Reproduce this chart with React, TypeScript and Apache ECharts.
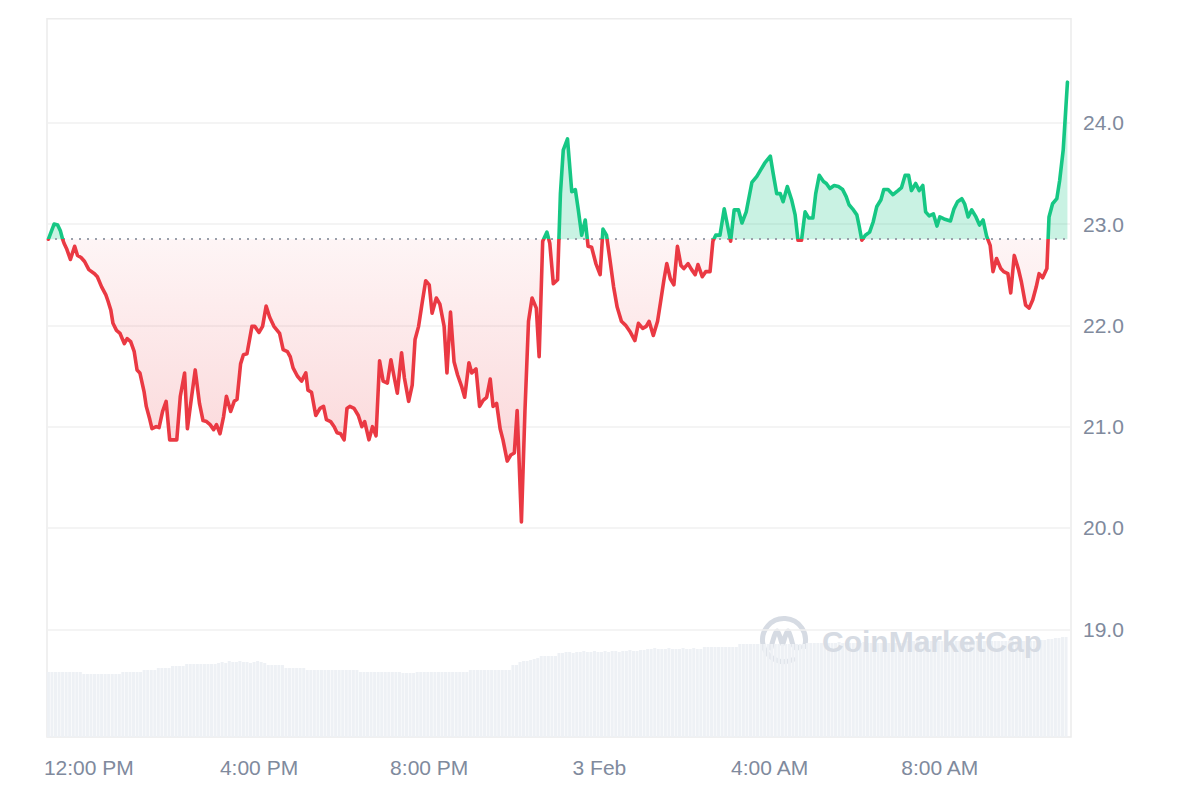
import { useEffect, useRef } from "react";
import * as echarts from "echarts";

// ---------- data ----------
// x positions are minutes after 2 Feb 00:00
const AXIS_START_MIN = 661; // 2 Feb, 11:01
const AXIS_END_MIN = 2105; // 3 Feb, 11:05
const OPEN_PRICE = 22.85; // dotted reference line

// price samples: minutes after axis start, and price
const priceMinutes = [
  2, 10, 15, 19, 22, 24, 28, 33, 39, 43,
  48, 53, 59, 67, 71, 77, 83, 86, 90, 93,
  98, 103, 109, 113, 118, 123, 127, 131, 137, 140,
  145, 148, 154, 158, 163, 168, 173, 183, 188, 194,
  198, 204, 209, 215, 220, 225, 230, 235, 239, 244,
  249, 253, 259, 264, 268, 273, 277, 282, 289, 293,
  299, 304, 309, 314, 320, 328, 333, 339, 343, 347,
  353, 359, 365, 368, 373, 379, 385, 390, 394, 400,
  405, 409, 414, 419, 423, 427, 433, 439, 444, 448,
  454, 459, 464, 469, 474, 480, 485, 489, 494, 500,
  504, 510, 515, 519, 524, 529, 534, 539, 543, 549,
  554, 560, 564, 569, 574, 579, 585, 589, 595, 599,
  605, 610, 615, 620, 625, 629, 634, 639, 643, 649,
  654, 659, 663, 669, 674, 679, 684, 690, 694, 699,
  705, 709, 714, 720, 724, 728, 734, 740, 745, 749,
  754, 759, 763, 768, 774, 780, 784, 789, 794, 799,
  804, 810, 816, 822, 829, 834, 840, 845, 849, 855,
  861, 865, 870, 874, 879, 884, 889, 894, 898, 904,
  909, 914, 918, 924, 929, 935, 939, 943, 949, 955,
  959, 964, 969, 975, 980, 986, 994, 1001, 1006, 1012,
  1020, 1024, 1029, 1034, 1038, 1044, 1050, 1055, 1059, 1064,
  1069, 1074, 1080, 1084, 1089, 1095, 1099, 1104, 1110, 1116,
  1122, 1127, 1131, 1136, 1142, 1145, 1149, 1154, 1160, 1165,
  1170, 1176, 1180, 1186, 1193, 1200, 1205, 1210, 1215, 1219,
  1225, 1230, 1235, 1239, 1244, 1250, 1255, 1259, 1265, 1274,
  1279, 1284, 1290, 1294, 1299, 1304, 1310, 1315, 1320, 1325,
  1330, 1334, 1339, 1345, 1349, 1355, 1359, 1364, 1370, 1374,
  1380, 1385, 1390, 1395, 1399, 1404, 1410, 1413, 1418, 1424,
  1428, 1433, 1439,
];
const prices = [
  22.85, 23.0, 22.99, 22.93, 22.85, 22.81, 22.75, 22.65, 22.78, 22.69,
  22.67, 22.63, 22.55, 22.51, 22.48, 22.38, 22.3, 22.24, 22.15, 22.02,
  21.95, 21.92, 21.82, 21.87, 21.84, 21.74, 21.56, 21.53, 21.34, 21.2,
  21.07, 20.98, 21.0, 20.99, 21.15, 21.25, 20.87, 20.87, 21.3, 21.53,
  20.98, 21.3, 21.56, 21.23, 21.06, 21.05, 21.02, 20.97, 21.02, 20.93,
  21.1, 21.3, 21.15, 21.25, 21.27, 21.62, 21.71, 21.72, 21.99, 21.99,
  21.93, 21.99, 22.19, 22.08, 21.99, 21.92, 21.76, 21.74, 21.69, 21.58,
  21.5, 21.45, 21.53, 21.36, 21.34, 21.11, 21.18, 21.2, 21.07, 21.05,
  21.0, 20.94, 20.93, 20.87, 21.18, 21.2, 21.18, 21.11, 21.0, 21.05,
  20.87, 21.0, 20.91, 21.65, 21.45, 21.43, 21.66, 21.51, 21.33, 21.73,
  21.48, 21.25, 21.41, 21.86, 21.99, 22.22, 22.44, 22.4, 22.12, 22.27,
  22.21, 21.99, 21.53, 22.13, 21.64, 21.51, 21.39, 21.29, 21.63, 21.53,
  21.57, 21.2, 21.26, 21.29, 21.47, 21.2, 21.23, 20.98, 20.87, 20.66,
  20.72, 20.74, 21.16, 20.06, 21.16, 22.04, 22.27, 22.17, 21.69, 22.83,
  22.92, 22.81, 22.41, 22.45, 23.3, 23.73, 23.84, 23.32, 23.34, 23.15,
  22.89, 23.04, 22.78, 22.77, 22.61, 22.5, 22.95, 22.89, 22.64, 22.38,
  22.18, 22.04, 22.0, 21.94, 21.85, 22.02, 21.97, 21.99, 22.04, 21.9,
  22.04, 22.22, 22.45, 22.61, 22.46, 22.4, 22.78, 22.59, 22.56, 22.61,
  22.55, 22.5, 22.6, 22.48, 22.53, 22.53, 22.83, 22.89, 22.89, 23.15,
  23.01, 22.83, 23.14, 23.14, 23.01, 23.12, 23.41, 23.47, 23.53, 23.6,
  23.67, 23.5, 23.3, 23.3, 23.22, 23.37, 23.24, 23.09, 22.84, 22.84,
  23.12, 23.06, 23.06, 23.3, 23.48, 23.42, 23.4, 23.35, 23.38, 23.37,
  23.34, 23.27, 23.19, 23.15, 23.09, 22.99, 22.84, 22.89, 22.92, 23.02,
  23.17, 23.24, 23.34, 23.34, 23.29, 23.33, 23.36, 23.48, 23.48, 23.33,
  23.4, 23.33, 23.38, 23.12, 23.08, 23.1, 22.98, 23.07, 23.05, 23.03,
  23.15, 23.22, 23.25, 23.2, 23.07, 23.14, 23.07, 22.99, 23.04, 22.88,
  22.79, 22.53, 22.66, 22.56, 22.53, 22.51, 22.32, 22.69, 22.55, 22.43,
  22.2, 22.17, 22.25, 22.38, 22.51, 22.47, 22.56, 23.07, 23.2, 23.25,
  23.43, 23.73, 24.4,
];

// volume bars, one every 5 minutes (relative height units)
const VOL_FIRST_MIN = 2;
const VOL_STEP_MIN = 5;
const volumes = [
  6.5, 6.5, 6.5, 6.5, 6.5, 6.5, 6.5, 6.5, 6.5, 6.5, 6.3, 6.3, 6.3, 6.3, 6.3, 6.3, 6.3, 6.3, 6.3, 6.3,
  6.3, 6.5, 6.5, 6.5, 6.5, 6.5, 6.5, 6.7, 6.7, 6.7, 6.7, 6.9, 6.9, 6.9, 6.9, 7.1, 7.1, 7.1, 7.1, 7.3,
  7.3, 7.3, 7.3, 7.3, 7.3, 7.3, 7.3, 7.3, 7.4, 7.5, 7.4, 7.6, 7.5, 7.5, 7.6, 7.5, 7.5, 7.4, 7.5, 7.6,
  7.5, 7.4, 7.2, 7.2, 7.2, 7.2, 7.2, 6.9, 6.9, 6.9, 6.9, 6.9, 6.9, 6.7, 6.7, 6.7, 6.7, 6.7, 6.7, 6.7,
  6.7, 6.7, 6.7, 6.7, 6.7, 6.7, 6.7, 6.7, 6.5, 6.5, 6.5, 6.5, 6.5, 6.5, 6.5, 6.5, 6.5, 6.5, 6.5, 6.5,
  6.4, 6.4, 6.4, 6.4, 6.5, 6.5, 6.5, 6.5, 6.5, 6.5, 6.5, 6.5, 6.5, 6.5, 6.5, 6.5, 6.5, 6.5, 6.5, 6.7,
  6.7, 6.7, 6.7, 6.7, 6.7, 6.7, 6.7, 6.7, 6.7, 6.7, 6.7, 7.2, 7.2, 7.5, 7.6, 7.6, 7.7, 7.8, 7.9, 8.1,
  8.1, 8.1, 8.1, 8.1, 8.4, 8.4, 8.5, 8.5, 8.4, 8.5, 8.5, 8.6, 8.5, 8.5, 8.6, 8.5, 8.5, 8.6, 8.5, 8.6,
  8.6, 8.5, 8.6, 8.6, 8.7, 8.6, 8.6, 8.7, 8.7, 8.8, 8.8, 8.9, 8.8, 8.8, 8.8, 8.9, 8.8, 8.8, 8.8, 8.9,
  8.8, 8.8, 8.9, 8.8, 8.8, 9.0, 9.0, 9.0, 9.0, 9.0, 9.0, 9.0, 9.0, 9.0, 9.0, 9.3, 9.3, 9.3, 9.3, 9.3,
  9.3, 9.3, 9.3, 9.3, 9.3, 9.3, 9.3, 9.3, 9.3, 9.3, 9.3, 9.3, 9.3, 9.3, 9.4, 9.4, 9.4, 9.4, 9.4, 9.4,
  9.4, 9.4, 9.4, 9.5, 9.4, 9.4, 9.4, 9.4, 9.4, 9.4, 9.5, 9.4, 9.4, 9.4, 9.4, 9.4, 9.4, 9.4, 9.4, 9.4,
  9.4, 9.4, 9.6, 9.6, 9.6, 9.6, 9.6, 9.6, 9.6, 9.6, 9.6, 9.6, 9.6, 9.6, 9.6, 9.6, 9.6, 9.6, 9.6, 9.6,
  9.6, 9.6, 9.6, 9.6, 9.6, 9.6, 9.6, 9.6, 9.6, 9.6, 9.6, 9.6, 9.6, 9.6, 9.6, 9.6, 9.6, 9.6, 9.6, 9.6,
  9.7, 9.7, 9.8, 9.8, 9.9, 9.9, 10.0, 10.0,
];
const VOL_AXIS_MAX = 71.83;

// axis ticks
const Y_MIN = 19;
const Y_MAX = 24;
const Y_STEP = 1;
const xTickMinutes = [720, 960, 1200, 1440, 1680, 1920]; // minutes after 2 Feb 00:00
const xTickLabels = ["12:00 PM", "4:00 PM", "8:00 PM", "3 Feb", "4:00 AM", "8:00 AM"];

const GREEN = "#16c784";
const RED = "#ea3943";
const LABEL_COLOR = "#808a9d";
const FONT = "'Liberation Sans', Arial, Helvetica, sans-serif";
const WATERMARK = "#d6dbe3";

export default function App() {
  const ref = useRef<HTMLDivElement>(null);

  useEffect(() => {
    const el = ref.current;
    if (!el) return;
    const chart = echarts.init(el, null, { renderer: "svg" });

    const t = (m: number) => AXIS_START_MIN + m;
    const priceData = priceMinutes.map((m, i) => [t(m), prices[i]]);
    const aboveData = priceMinutes.map((m, i) => [t(m), Math.max(prices[i], OPEN_PRICE)]);
    const belowData = priceMinutes.map((m, i) => [t(m), Math.min(prices[i], OPEN_PRICE)]);
    const volData = volumes.map((v, i) => [t(VOL_FIRST_MIN + i * VOL_STEP_MIN), v]);

    const xBase = { type: "value", min: AXIS_START_MIN, max: AXIS_END_MIN };

    chart.setOption({
      animation: false,
      backgroundColor: "#ffffff",
      grid: [
        { left: 47, right: 129, top: 122.7, bottom: 170.7, outerBoundsMode: "none", containLabel: false },
        {
          left: 47, right: 129, top: 18.7, bottom: 63,
          show: true, borderColor: "#ececec", borderWidth: 1.5, backgroundColor: "transparent",
          outerBoundsMode: "none", containLabel: false,
        },
      ],
      xAxis: [
        { ...xBase, gridIndex: 0, show: false },
        {
          ...xBase, gridIndex: 1,
          axisLine: { show: false }, axisTick: { show: false }, splitLine: { show: false },
          axisLabel: {
            color: LABEL_COLOR, fontSize: 21, fontFamily: FONT, margin: 20,
            customValues: xTickMinutes, hideOverlap: false,
            formatter: (v: number) => {
              const idx = xTickMinutes.findIndex((x) => Math.abs(x - v) < 0.5);
              return idx >= 0 ? xTickLabels[idx] : "";
            },
          },
        },
      ],
      yAxis: [
        {
          type: "value", gridIndex: 0, position: "right", min: Y_MIN, max: Y_MAX, interval: Y_STEP,
          axisLine: { show: false }, axisTick: { show: false },
          splitLine: { show: true, lineStyle: { color: "#f0f0f0", width: 1.5 } },
          axisLabel: {
            color: LABEL_COLOR, fontSize: 21, fontFamily: FONT, margin: 12,
            formatter: (v: number) => v.toFixed(1),
          },
        },
        { type: "value", gridIndex: 1, min: 0, max: VOL_AXIS_MAX, show: false, splitLine: { show: false } },
      ],
      visualMap: [
        {
          type: "piecewise", show: false, seriesIndex: 3, dimension: 1,
          pieces: [
            { gte: 0, lt: OPEN_PRICE, color: RED },
            { gte: OPEN_PRICE, lte: 100, color: GREEN },
          ],
        },
      ],
      graphic: [
        {
          type: "group", x: 759, y: 615, z: 10, silent: true,
          children: [
            {
              type: "arc",
              shape: { cx: 25, cy: 25, r: 21.5, startAngle: Math.PI * 0.36, endAngle: Math.PI * 2.1, clockwise: true },
              style: { stroke: WATERMARK, lineWidth: 5, fill: "none", lineCap: "round" },
            },
            {
              type: "polyline",
              shape: {
                points: [[12, 33], [15, 22], [18, 16], [21, 22], [23.5, 29], [26, 22], [29, 16], [32, 23], [34, 30], [37, 33], [41, 32]],
                smooth: 0.35,
              },
              style: { stroke: WATERMARK, lineWidth: 5, fill: "none", lineCap: "round", lineJoin: "round" },
            },
          ],
        },
        {
          type: "text", x: 822, y: 641.5, z: 10, silent: true,
          style: {
            text: "CoinMarketCap", fill: WATERMARK, fontSize: 30, fontWeight: 700,
            fontFamily: FONT, textAlign: "left", textVerticalAlign: "middle", verticalAlign: "middle",
          },
        },
      ],
      series: [
        {
          name: "Volume", type: "bar", xAxisIndex: 1, yAxisIndex: 1, data: volData,
          barWidth: 3, itemStyle: { color: "#eef1f5" }, silent: true, z: 1,
        },
        {
          name: "below", type: "line", xAxisIndex: 0, yAxisIndex: 0, data: belowData,
          showSymbol: false, symbol: "none", silent: true, clip: false, z: 2,
          lineStyle: { width: 0, opacity: 0 },
          areaStyle: {
            origin: OPEN_PRICE, opacity: 1,
            color: new echarts.graphic.LinearGradient(0, 0, 0, 1, [
              { offset: 0, color: "rgba(234,57,67,0.05)" },
              { offset: 1, color: "rgba(234,57,67,0.24)" },
            ]),
          },
        },
        {
          name: "above", type: "line", xAxisIndex: 0, yAxisIndex: 0, data: aboveData,
          showSymbol: false, symbol: "none", silent: true, clip: false, z: 2,
          lineStyle: { width: 0, opacity: 0 },
          areaStyle: { origin: OPEN_PRICE, opacity: 1, color: "rgba(22,199,132,0.23)" },
        },
        {
          name: "Price", type: "line", xAxisIndex: 0, yAxisIndex: 0, data: priceData,
          showSymbol: false, symbol: "none", clip: false, z: 5,
          lineStyle: { width: 3.6, cap: "round", join: "round" },
          markLine: {
            silent: true, symbol: ["none", "none"], label: { show: false },
            lineStyle: { type: [2, 6], color: "#9aa0ab", width: 2 },
            data: [{ yAxis: OPEN_PRICE }],
          },
        },
      ],
    });

    return () => chart.dispose();
  }, []);

  return (
    <div
      ref={ref}
      style={{ position: "fixed", left: 0, top: 0, width: 1200, height: 800, background: "#ffffff" }}
    />
  );
}
